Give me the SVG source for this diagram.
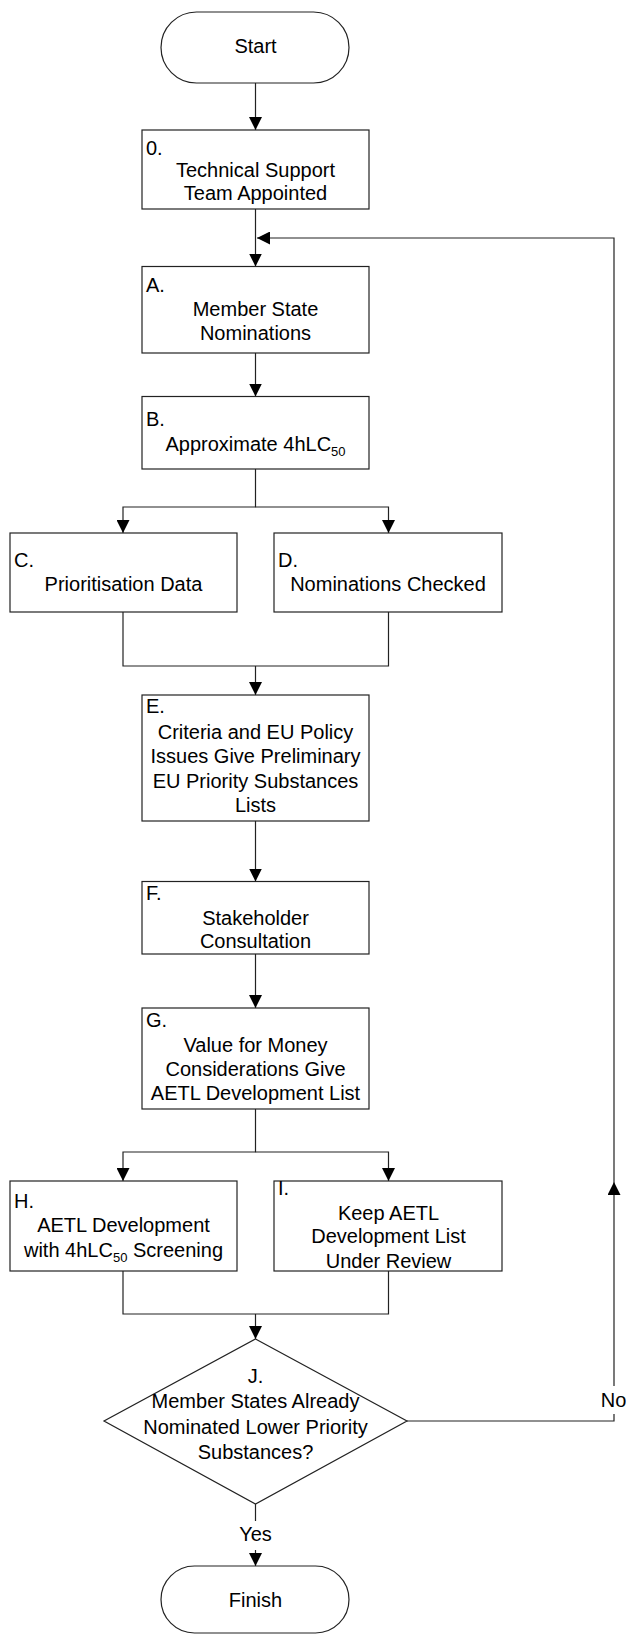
<svg xmlns="http://www.w3.org/2000/svg" width="630" height="1635" viewBox="0 0 630 1635">
<style>
.box{fill:#fff;stroke:#222;stroke-width:1.2}
.t{font-family:"Liberation Sans",Arial,sans-serif;font-size:20px;fill:#000}
.c{text-anchor:middle}
.sub{font-size:13px}
.conn{fill:none;stroke:#222;stroke-width:1.2}
.bg{fill:#fff;stroke:none}
</style>
<defs>
<marker id="ah" viewBox="0 0 13 13" refX="13" refY="6.5" markerWidth="13" markerHeight="13" markerUnits="userSpaceOnUse" orient="auto">
<path d="M0,0 L13,6.5 L0,13 z" fill="#000"/>
</marker>
</defs>
<rect width="630" height="1635" fill="#fff"/>
<g id="connectors">
<path class="conn" d="M255.5,83 V130" marker-end="url(#ah)"/>
<path class="conn" d="M255.5,209 V266.5" marker-end="url(#ah)"/>
<path class="conn" d="M255.5,353 V396.5" marker-end="url(#ah)"/>
<path class="conn" d="M255.5,469 V507 H123 V533" marker-end="url(#ah)"/>
<path class="conn" d="M255.5,507 H388.5 V533" marker-end="url(#ah)"/>
<path class="conn" d="M123,612 V666 H388.5 V612"/>
<path class="conn" d="M255.5,666 V695" marker-end="url(#ah)"/>
<path class="conn" d="M255.5,821 V881.5" marker-end="url(#ah)"/>
<path class="conn" d="M255.5,954 V1008" marker-end="url(#ah)"/>
<path class="conn" d="M255.5,1109 V1152 H123 V1181" marker-end="url(#ah)"/>
<path class="conn" d="M255.5,1152 H388.5 V1181" marker-end="url(#ah)"/>
<path class="conn" d="M123,1271 V1314 H388.5 V1271"/>
<path class="conn" d="M255.5,1314 V1339" marker-end="url(#ah)"/>
<path class="conn" d="M255.5,1504 V1566" marker-end="url(#ah)"/>
<path class="conn" d="M407,1421 H614 V1182" marker-end="url(#ah)"/>
<path class="conn" d="M614,1182 V238 H257" marker-end="url(#ah)"/>
<rect class="bg" x="238" y="1521" width="36" height="29"/>
<text class="t c" x="255.5" y="1541">Yes</text>
<rect class="bg" x="599" y="1386" width="30" height="28"/>
<text class="t c" x="613.5" y="1407">No</text>
</g>
<g id="start">
<rect class="box" x="161" y="12" width="188" height="71" rx="35.5" ry="35.5"/>
<text class="t c" x="255.5" y="53">Start</text>
</g>
<g id="n0">
<rect class="box" x="142" y="130" width="227" height="79"/>
<text class="t" x="146" y="155">0.</text>
<text class="t c" x="255.5" y="177">Technical Support</text>
<text class="t c" x="255.5" y="200">Team Appointed</text>
</g>
<g id="nA">
<rect class="box" x="142" y="266.5" width="227" height="86.5"/>
<text class="t" x="146" y="291.5">A.</text>
<text class="t c" x="255.5" y="316">Member State</text>
<text class="t c" x="255.5" y="340">Nominations</text>
</g>
<g id="nB">
<rect class="box" x="142" y="396.5" width="227" height="72.5"/>
<text class="t" x="146" y="426">B.</text>
<text class="t c" x="255.5" y="450.5">Approximate 4hLC<tspan class="sub" dy="5">50</tspan></text>
</g>
<g id="nC">
<rect class="box" x="10" y="533" width="227" height="79"/>
<text class="t" x="14" y="567">C.</text>
<text class="t c" x="123.5" y="591">Prioritisation Data</text>
</g>
<g id="nD">
<rect class="box" x="274" y="533" width="228" height="79"/>
<text class="t" x="278" y="567">D.</text>
<text class="t c" x="388" y="591">Nominations Checked</text>
</g>
<g id="nE">
<rect class="box" x="142" y="695" width="227" height="126"/>
<text class="t" x="146" y="713">E.</text>
<text class="t c" x="255.5" y="739">Criteria and EU Policy</text>
<text class="t c" x="255.5" y="763">Issues Give Preliminary</text>
<text class="t c" x="255.5" y="788">EU Priority Substances</text>
<text class="t c" x="255.5" y="812">Lists</text>
</g>
<g id="nF">
<rect class="box" x="142" y="881.5" width="227" height="72.5"/>
<text class="t" x="146" y="900">F.</text>
<text class="t c" x="255.5" y="925">Stakeholder</text>
<text class="t c" x="255.5" y="948">Consultation</text>
</g>
<g id="nG">
<rect class="box" x="142" y="1008" width="227" height="101"/>
<text class="t" x="146" y="1027">G.</text>
<text class="t c" x="255.5" y="1052">Value for Money</text>
<text class="t c" x="255.5" y="1076">Considerations Give</text>
<text class="t c" x="255.5" y="1100">AETL Development List</text>
</g>
<g id="nH">
<rect class="box" x="10" y="1181" width="227" height="90"/>
<text class="t" x="14" y="1208">H.</text>
<text class="t c" x="123.5" y="1232">AETL Development</text>
<text class="t c" x="123.5" y="1257">with 4hLC<tspan class="sub" dy="5">50</tspan><tspan dy="-5"> Screening</tspan></text>
</g>
<g id="nI">
<rect class="box" x="274" y="1181" width="228" height="90"/>
<text class="t" x="278" y="1195">I.</text>
<text class="t c" x="388.5" y="1220">Keep AETL</text>
<text class="t c" x="388.5" y="1243">Development List</text>
<text class="t c" x="388.5" y="1268">Under Review</text>
</g>
<g id="nJ">
<polygon class="box" points="255.5,1339 407,1421 255.5,1504 104,1421"/>
<text class="t c" x="255.5" y="1383">J.</text>
<text class="t c" x="255.5" y="1408">Member States Already</text>
<text class="t c" x="255.5" y="1434">Nominated Lower Priority</text>
<text class="t c" x="255.5" y="1459">Substances?</text>
</g>
<g id="finish">
<rect class="box" x="161" y="1566" width="188" height="67" rx="33.5" ry="33.5"/>
<text class="t c" x="255.5" y="1607">Finish</text>
</g>
</svg>
